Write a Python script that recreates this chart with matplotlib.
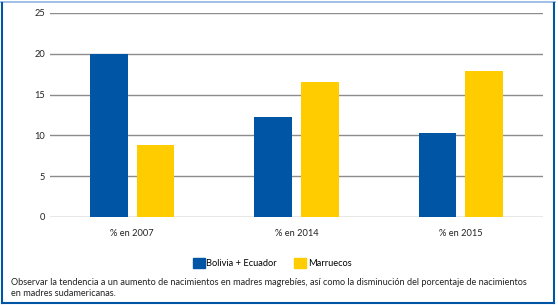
import matplotlib
matplotlib.use("Agg")
import matplotlib.pyplot as plt
from matplotlib.patches import Rectangle
from matplotlib.lines import Line2D
import numpy as np

categories = ["% en 2007", "% en 2014", "% en 2015"]
series_names = ["Bolivia + Ecuador", "Marruecos"]
bolivia_ecuador = [20.0, 12.2, 10.3]
marruecos = [8.8, 16.6, 17.9]
yticks = [0, 5, 10, 15, 20, 25]
caption = ("Observar la tendencia a un aumento de nacimientos en madres magrebíes, así como la disminución del porcentaje de nacimientos\n"
           "en madres sudamericanas.")

BLUE = "#0055A4"
YELLOW = "#FFCC00"
W, H = 558, 305
plt.rcParams['font.family'] = ['Lato', 'DejaVu Sans']

fig = plt.figure(figsize=(W/100, H/100), dpi=100)
ax = fig.add_axes([50/W, (H-217)/H, (543-50)/W, 204/H])

x = np.arange(len(categories))
bw = 0.23
off = 0.1425
ax.bar(x - off, bolivia_ecuador, bw, color=BLUE, zorder=3)
ax.bar(x + off, marruecos, bw, color=YELLOW, zorder=3)

ax.set_xlim(-0.5, 2.5)
ax.set_ylim(0, 25)
ax.set_yticks(yticks)
ax.set_yticklabels([str(t) for t in yticks], fontsize=6.7, color="#222222")
ax.set_xticks(x)
ax.set_xticklabels(categories, fontsize=6.7, color="#222222")
ax.tick_params(axis='y', length=0, pad=3.6)
ax.tick_params(axis='x', length=0, pad=9)
ax.grid(axis='y', color="#8c8c8c", linewidth=1.0, zorder=0)
for s in ax.spines.values():
    s.set_visible(False)

# legend
handles = [Rectangle((0, 0), 1, 1, color=BLUE), Rectangle((0, 0), 1, 1, color=YELLOW)]
fig.legend(handles, series_names, loc='center', bbox_to_anchor=(272/W, (H-263)/H),
           ncol=2, frameon=False, fontsize=6.7, handlelength=1.3, handleheight=1.3,
           handletextpad=0.15, columnspacing=1.9)

fig.text(11/W, (H-288)/H, caption, fontsize=6.6, ha='left', va='center', color="#222222",
         linespacing=1.3)

# frame
fig.add_artist(Line2D([0, 555/W], [(H-2)/H, (H-2)/H], color="#8fb4e0", linewidth=1.2, transform=fig.transFigure))
fig.add_artist(Line2D([2/W, 2/W], [(H-303)/H, (H-3)/H], color=BLUE, linewidth=1.5, transform=fig.transFigure))
fig.add_artist(Line2D([554/W, 554/W], [(H-303)/H, (H-3)/H], color=BLUE, linewidth=1.5, transform=fig.transFigure))
fig.add_artist(Line2D([2/W, 554/W], [(H-303)/H, (H-303)/H], color=BLUE, linewidth=1.5, transform=fig.transFigure))

fig.savefig("out.png", dpi=100)
